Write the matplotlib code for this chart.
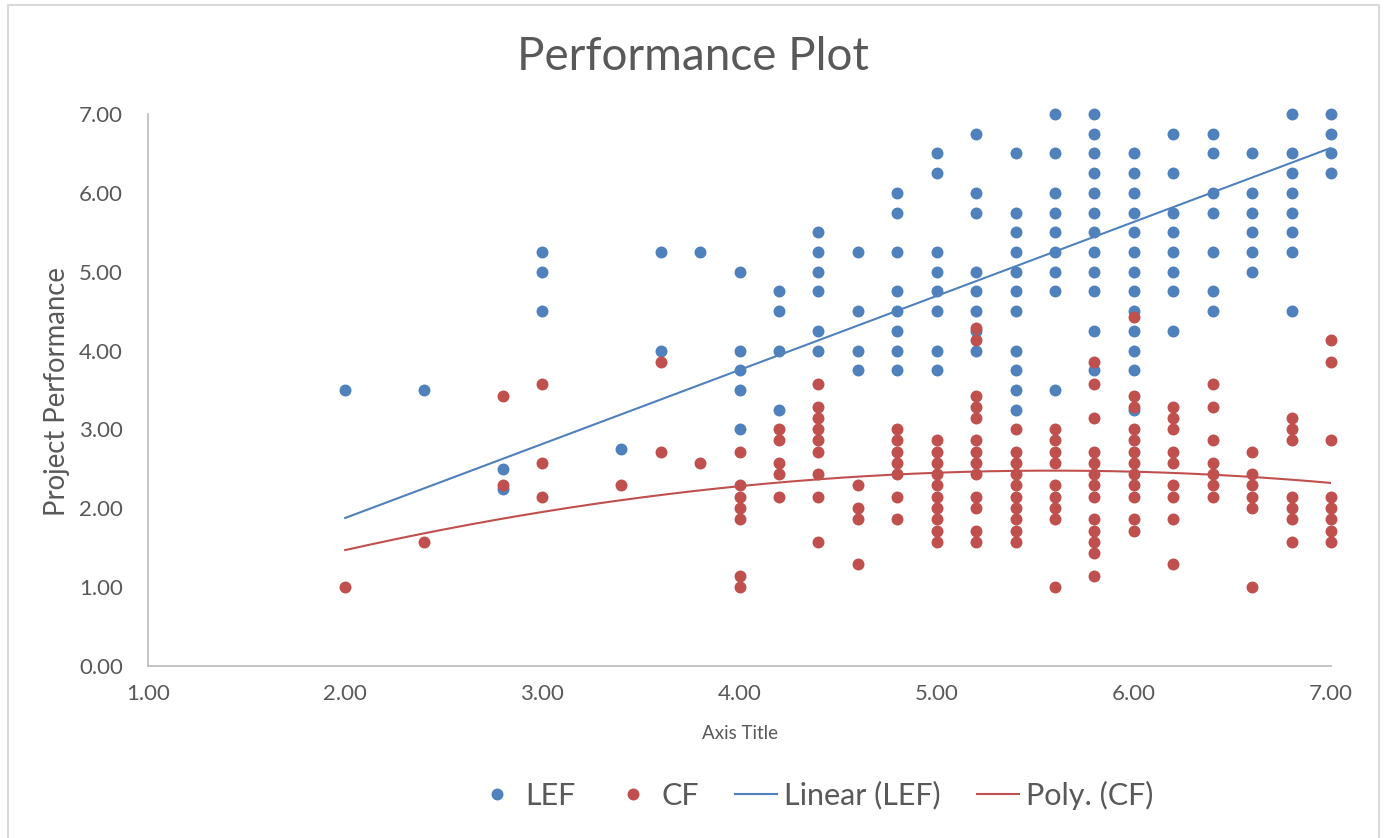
import numpy as np
import matplotlib
matplotlib.use("Agg")
import matplotlib.pyplot as plt
from matplotlib.lines import Line2D

# ---------------- data ----------------
x_cols = [2.0, 2.4, 2.8, 3.0, 3.4, 3.6, 3.8, 4.0, 4.2, 4.4, 4.6, 4.8,
          5.0, 5.2, 5.4, 5.6, 5.8, 6.0, 6.2, 6.4, 6.6, 6.8, 7.0]

lef_y_cols = [
    [3.5],
    [3.5],
    [2.5, 2.25],
    [5.25, 5.0, 4.5],
    [2.75],
    [5.25, 4.0],
    [5.25],
    [5.0, 4.0, 3.75, 3.5, 3.0],
    [4.75, 4.5, 4.0, 3.25],
    [5.5, 5.25, 5.0, 4.75, 4.25, 4.0],
    [5.25, 4.5, 4.0, 3.75],
    [6.0, 5.75, 5.25, 4.75, 4.5, 4.25, 4.0, 3.75],
    [6.5, 6.25, 5.25, 5.0, 4.75, 4.5, 4.0, 3.75],
    [6.75, 6.0, 5.75, 5.0, 4.75, 4.5, 4.25, 4.0],
    [6.5, 5.75, 5.5, 5.25, 5.0, 4.75, 4.5, 4.0, 3.75, 3.5, 3.25],
    [7.0, 6.5, 6.0, 5.75, 5.5, 5.25, 5.0, 4.75, 3.5],
    [7.0, 6.75, 6.5, 6.25, 6.0, 5.75, 5.5, 5.25, 5.0, 4.75, 4.25, 3.75],
    [6.5, 6.25, 6.0, 5.75, 5.5, 5.25, 5.0, 4.75, 4.5, 4.25, 4.0, 3.75, 3.25],
    [6.75, 6.25, 5.75, 5.5, 5.25, 5.0, 4.75, 4.25],
    [6.75, 6.5, 6.0, 5.75, 5.25, 4.75, 4.5],
    [6.5, 6.0, 5.75, 5.5, 5.25, 5.0],
    [7.0, 6.5, 6.25, 6.0, 5.75, 5.5, 5.25, 4.5],
    [7.0, 6.75, 6.5, 6.25],
]

cf_y_cols = [
    [1.0],
    [1.57],
    [3.43, 2.29],
    [3.57, 2.57, 2.14],
    [2.29],
    [3.86, 2.71],
    [2.57],
    [2.71, 2.29, 2.14, 2.0, 1.86, 1.14, 1.0],
    [3.0, 2.86, 2.57, 2.43, 2.14],
    [3.57, 3.29, 3.14, 3.0, 2.86, 2.71, 2.43, 2.14, 1.57],
    [2.29, 2.0, 1.86, 1.29],
    [3.0, 2.86, 2.71, 2.57, 2.43, 2.14, 1.86],
    [2.86, 2.71, 2.57, 2.43, 2.29, 2.14, 2.0, 1.86, 1.71, 1.57],
    [4.29, 4.14, 3.43, 3.29, 3.14, 2.86, 2.71, 2.57, 2.43, 2.14, 2.0, 1.71, 1.57],
    [3.0, 2.71, 2.57, 2.43, 2.29, 2.14, 2.0, 1.86, 1.71, 1.57],
    [3.0, 2.86, 2.71, 2.57, 2.29, 2.14, 2.0, 1.86, 1.0],
    [3.86, 3.57, 3.14, 2.71, 2.57, 2.43, 2.29, 2.14, 1.86, 1.71, 1.57, 1.43, 1.14],
    [4.43, 3.43, 3.29, 3.0, 2.86, 2.71, 2.57, 2.43, 2.29, 2.14, 1.86, 1.71],
    [3.29, 3.14, 3.0, 2.71, 2.57, 2.29, 2.14, 1.86, 1.29],
    [3.57, 3.29, 2.86, 2.57, 2.43, 2.29, 2.14],
    [2.71, 2.43, 2.29, 2.14, 2.0, 1.0],
    [3.14, 3.0, 2.86, 2.14, 2.0, 1.86, 1.57],
    [4.14, 3.86, 2.86, 2.14, 2.0, 1.86, 1.71, 1.57],
]

# trendline coefficients as shown in the chart (highest power first);
# the underlying data contain repeated responses that the dots hide
linear_lef_coef = [0.9386, 0.0]
poly_cf_coef = [-0.0783, 0.875, 0.033]

series_names = ["LEF", "CF", "Linear (LEF)", "Poly. (CF)"]
x_ticks = [1, 2, 3, 4, 5, 6, 7]
y_ticks = [0, 1, 2, 3, 4, 5, 6, 7]

# ---------------- style ----------------
BLUE = "#4F81BD"
RED = "#C0504D"
TXT = "#595959"
AX = "#BFBFBF"
FONT = ["Lato", "DejaVu Sans"]
plt.rcParams["font.family"] = FONT

lef_x = np.concatenate([[x] * len(ys) for x, ys in zip(x_cols, lef_y_cols)])
lef_y = np.concatenate(lef_y_cols)
cf_x = np.concatenate([[x] * len(ys) for x, ys in zip(x_cols, cf_y_cols)])
cf_y = np.concatenate(cf_y_cols)

W, H = 1386, 838
fig = plt.figure(figsize=(W / 100, H / 100), dpi=100)
ax = fig.add_axes([148 / W, 1 - 666 / H, (1331 - 148) / W, (666 - 114) / H])

ms = 8.6
ax.plot(lef_x, lef_y, "o", color=BLUE, markersize=ms, markeredgewidth=0,
        zorder=3, clip_on=False)
ax.plot(cf_x, cf_y, "o", color=RED, markersize=ms, markeredgewidth=0,
        zorder=4, clip_on=False)

# trendlines
xs = np.linspace(lef_x.min(), lef_x.max(), 200)
ax.plot(xs, np.polyval(linear_lef_coef, xs), color=BLUE, lw=1.5, zorder=5)
xs2 = np.linspace(cf_x.min(), cf_x.max(), 200)
ax.plot(xs2, np.polyval(poly_cf_coef, xs2), color=RED, lw=1.5, zorder=5)

ax.set_xlim(1, 7)
ax.set_ylim(0, 7)
ax.set_xticks(x_ticks)
ax.set_yticks(y_ticks)
ax.set_xticklabels([f"{v:.2f}" for v in x_ticks])
ax.set_yticklabels([f"{v:.2f}" for v in y_ticks])
ax.tick_params(axis="both", length=0, labelsize=16, colors=TXT)
ax.tick_params(axis="y", pad=18)
ax.tick_params(axis="x", pad=13)
for s in ["top", "right"]:
    ax.spines[s].set_visible(False)
for s in ["left", "bottom"]:
    ax.spines[s].set_color(AX)
    ax.spines[s].set_linewidth(1.3)

fig.text(693 / W, 1 - 57 / H, "Performance Plot",
         ha="center", va="center", fontsize=33, color=TXT)
fig.text(57 / W, 1 - 392 / H, "Project Performance", rotation=90,
         ha="center", va="center", fontsize=19.8, color=TXT)
fig.text(740 / W, 1 - 733 / H, "Axis Title", ha="center", va="center",
         fontsize=13.5, color=TXT)

handles = [
    Line2D([], [], ls="none", marker="o", color=BLUE, markersize=ms, markeredgewidth=0),
    Line2D([], [], ls="none", marker="o", color=RED, markersize=ms, markeredgewidth=0),
    Line2D([], [], color=BLUE, lw=1.5),
    Line2D([], [], color=RED, lw=1.5),
]
fig.legend(handles, series_names, loc="center", ncol=4, frameon=False,
           bbox_to_anchor=(815 / W, 1 - 795 / H), fontsize=22,
           handlelength=1.37, handletextpad=0.23, columnspacing=1.2,
           labelcolor=TXT)

# chart-area border
fig.add_artist(Line2D([8 / W, 8 / W, 1379 / W, 1379 / W],
                      [0, 1 - 5 / H, 1 - 5 / H, 0], transform=fig.transFigure,
                      color="#D9D9D9", lw=1.5))

fig.savefig("out.png", dpi=100, facecolor="white")
